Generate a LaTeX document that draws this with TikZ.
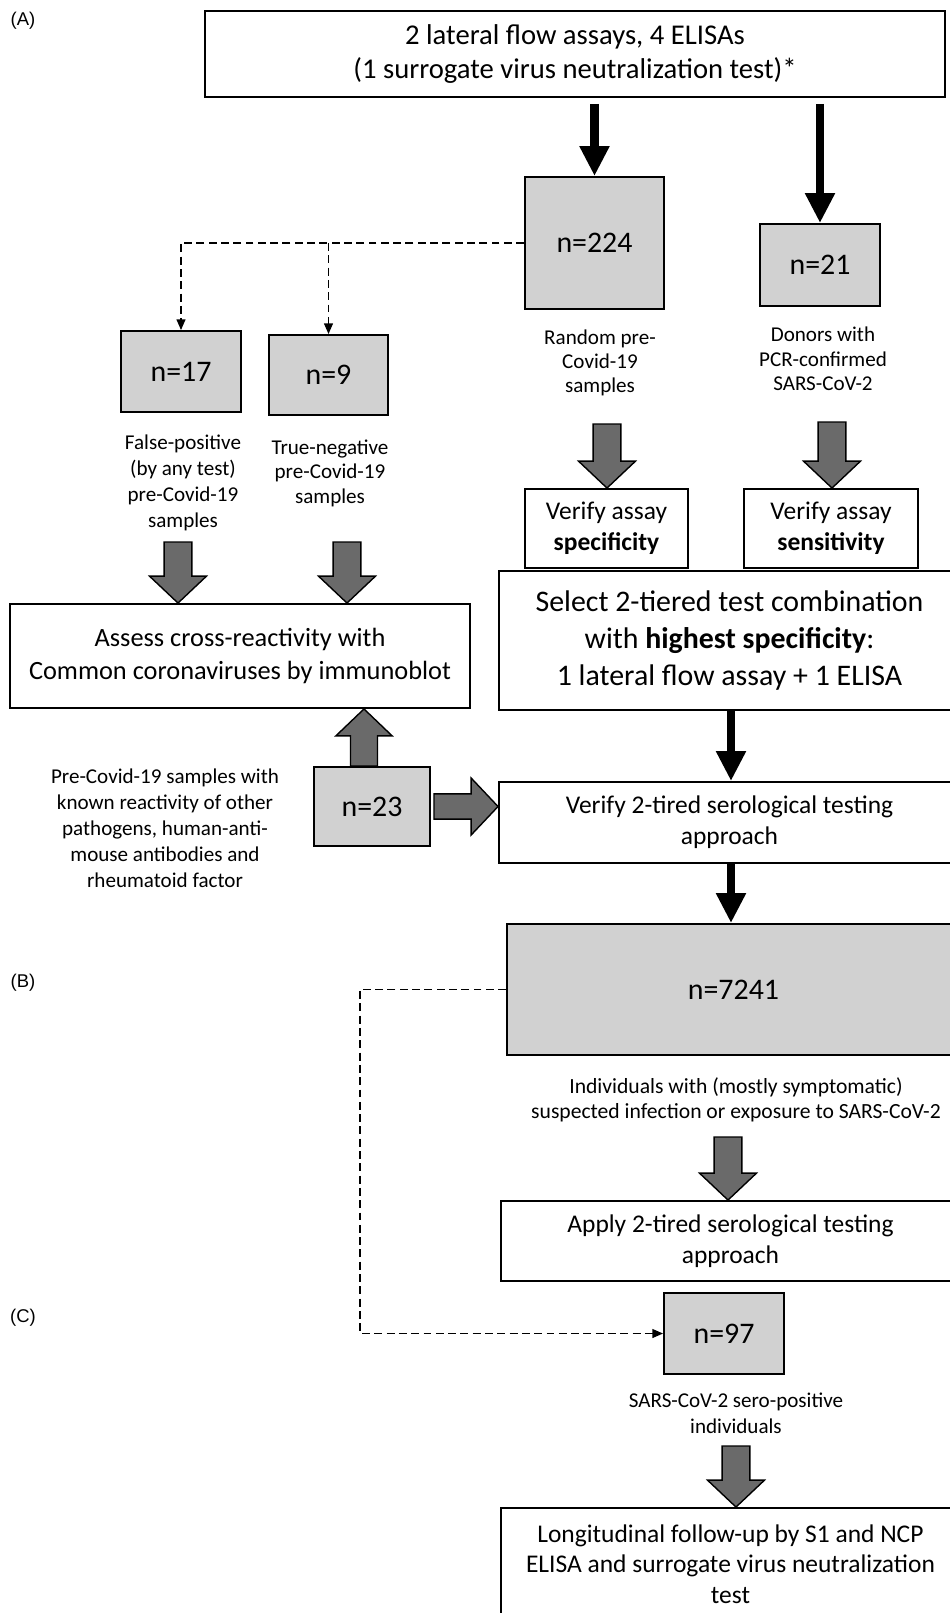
\documentclass[tikz,border=0pt]{standalone}
\usepackage{fontspec}
\setmainfont{Carlito}
\newfontfamily\labfont{Liberation Sans}
\usetikzlibrary{arrows.meta,calc}
\definecolor{cntgray}{HTML}{D1D1D1}
\definecolor{arrgray}{HTML}{6A6A6A}
\tikzset{
 box/.style={draw=black, line width=1.1pt, fill=white, align=center, inner sep=0pt},
 cnt/.style={draw=black, line width=1.1pt, fill=cntgray, inner sep=0pt, font=\fontsize{17}{20}\selectfont},
 lbl/.style={align=center, inner sep=0pt, font=\fontsize{12}{14}\selectfont},
 panel/.style={inner sep=0pt, font=\labfont\fontsize{10.5}{12}\selectfont},
 bigarr/.style={line width=5.1pt, -{Triangle[width=16pt,length=17pt]}},
 dashconn/.style={line width=0.8pt, dash pattern=on 4.5pt off 2.5pt},
 dashtip/.style={-{Triangle[width=5pt,length=6pt]}},
 garr/.style={draw=black, line width=0.8pt, fill=arrgray, line join=miter},
}
\newcommand\gdown[2]{%
 \draw[garr] let \p1=(#1), \p2=(#2) in (\x2-7.9pt,\y1) -- (\x2+7.9pt,\y1) -- (\x2+7.9pt,\y2+15.3pt) -- (\x2+16.2pt,\y2+15.3pt) -- (\x2,\y2) -- (\x2-16.2pt,\y2+15.3pt) -- (\x2-7.9pt,\y2+15.3pt) -- cycle;}
\newcommand\gup[2]{%
 \draw[garr] let \p1=(#1), \p2=(#2) in (\x2-7.7pt,\y1) -- (\x2+7.7pt,\y1) -- (\x2+7.7pt,\y2-15.3pt) -- (\x2+16pt,\y2-15.3pt) -- (\x2,\y2) -- (\x2-16pt,\y2-15.3pt) -- (\x2-7.7pt,\y2-15.3pt) -- cycle;}
\newcommand\gright[2]{%
 \draw[garr] let \p1=(#1), \p2=(#2) in (\x1,\y2+7.2pt) -- (\x2-15.3pt,\y2+7.2pt) -- (\x2-15.3pt,\y2+16.2pt) -- (\x2,\y2) -- (\x2-15.3pt,\y2-16.2pt) -- (\x2-15.3pt,\y2-7.2pt) -- (\x1,\y2-7.2pt) -- cycle;}
\begin{document}
\begin{tikzpicture}
\useasboundingbox (0,0) rectangle (19,-32.26);
% panel labels
\node[panel] (pA) at (0.46,-0.42) {(A)};
\node[panel] (pB) at (0.46,-19.66) {(B)};
\node[panel] (pC) at (0.46,-26.36) {(C)};
% boxes
\node[box, minimum width=14.8cm, minimum height=1.72cm, font=\fontsize{16.3}{18.9}\selectfont] (top) at (11.5,-1.08) {2 lateral flow assays, 4 ELISAs\\(1 surrogate virus neutralization test)*};
\node[cnt, minimum width=2.78cm, minimum height=2.64cm] (n224) at (11.89,-4.86) {n=224};
\node[cnt, minimum width=2.4cm, minimum height=1.64cm] (n21) at (16.4,-5.3) {n=21};
\node[cnt, minimum width=2.4cm, minimum height=1.62cm] (n17) at (3.62,-7.43) {n=17};
\node[cnt, minimum width=2.38cm, minimum height=1.6cm] (n9) at (6.57,-7.5) {n=9};
\node[lbl, font=\fontsize{12}{13.5}\selectfont] (lrandom) at (12.0,-7.26) {Random pre-\\Covid-19\\samples};
\node[lbl] (ldonors) at (16.46,-7.18) {Donors with\\PCR-confirmed\\SARS-CoV-2};
\node[lbl, font=\fontsize{12}{14.8}\selectfont] (lfp) at (3.66,-9.66) {False-positive\\(by any test)\\pre-Covid-19\\samples};
\node[lbl] (ltn) at (6.6,-9.46) {True-negative\\pre-Covid-19\\samples};
\node[box, minimum width=3.26cm, minimum height=1.58cm, font=\fontsize{14.5}{17.6}\selectfont] (spec) at (12.13,-10.57) {Verify assay\\\textbf{specificity}};
\node[box, minimum width=3.48cm, minimum height=1.58cm, font=\fontsize{14.5}{17.6}\selectfont] (sens) at (16.62,-10.57) {Verify assay\\\textbf{sensitivity}};
\node[box, minimum width=9.22cm, minimum height=2.78cm, font=\fontsize{17}{21}\selectfont] (select) at (14.59,-12.81) {Select 2-tiered test combination\\with \textbf{highest specificity}:\\1 lateral flow assay + 1 ELISA};
\node[box, minimum width=9.2cm, minimum height=2.08cm, font=\fontsize{15}{19.3}\selectfont] (assess) at (4.8,-13.12) {Assess cross-reactivity with\\Common coronaviruses by immunoblot};
\node[cnt, minimum width=2.32cm, minimum height=1.58cm] (n23) at (7.44,-16.13) {n=23};
\node[lbl, font=\fontsize{12}{14.8}\selectfont] (lpre) at (3.3,-16.56) {Pre-Covid-19 samples with\\known reactivity of other\\pathogens, human-anti-\\mouse antibodies and\\rheumatoid factor};
\node[box, minimum width=9.22cm, minimum height=1.62cm, font=\fontsize{14.5}{17.6}\selectfont] (verify) at (14.59,-16.45) {Verify 2-tired serological testing\\approach};
\node[cnt, minimum width=9.06cm, minimum height=2.62cm] (n7241) at (14.67,-19.79) {n=7241};
\node[lbl, font=\fontsize{12.3}{13.9}\selectfont] (lind) at (14.72,-22.0) {Individuals with (mostly symptomatic)\\suspected infection or exposure to SARS-CoV-2};
\node[box, minimum width=9.18cm, minimum height=1.6cm, font=\fontsize{14.5}{17.6}\selectfont] (apply) at (14.61,-24.82) {Apply 2-tired serological testing\\approach};
\node[cnt, minimum width=2.4cm, minimum height=1.62cm] (n97) at (14.48,-26.67) {n=97};
\node[lbl, font=\fontsize{12}{14.8}\selectfont] (lsero) at (14.72,-28.26) {SARS-CoV-2 sero-positive\\individuals};
\node[box, minimum width=9.18cm, minimum height=2.24cm, font=\fontsize{14.5}{17.3}\selectfont] (long) at (14.61,-31.28) {Longitudinal follow-up by S1 and NCP\\ELISA and surrogate virus neutralization\\test};
% black arrows
\draw[bigarr] ($(top.south -| n224.north)+(0,-0.12)$) -- (n224.north);
\draw[bigarr] ($(top.south -| n21.north)+(0,-0.12)$) -- (n21.north);
\coordinate (vx) at (14.62,0);
\draw[bigarr] (select.south -| vx) -- (verify.north -| vx);
\draw[bigarr] (verify.south -| vx) -- (n7241.north -| vx);
% dashed connectors
\draw[dashconn, dashtip] (n224.west) -- (n17.north |- n224.west) -- (n17.north);
\draw[dashconn, dashtip] (n9.north |- n224.west) -- (n9.north);
\coordinate (dl) at (7.2,0);
\draw[dashconn, dashtip] (n7241.west) -- (dl |- n7241.west) -- (dl |- n97.west) -- (n97.west);
% gray block arrows
\coordinate (g1) at (12.14,-8.48);
\gdown{g1}{g1 |- spec.north}
\coordinate (g2) at (16.64,-8.44);
\gdown{g2}{g2 |- sens.north}
\coordinate (g3) at (3.56,-10.84);
\gdown{g3}{g3 |- assess.north}
\coordinate (g4) at (6.94,-10.84);
\gdown{g4}{g4 |- assess.north}
\coordinate (g5) at (7.28,0);
\gup{g5 |- n23.north}{g5 |- assess.south}
\gright{$(n23.east)+(0.06,0)$}{verify.west |- n23.east}
\coordinate (g6) at (14.56,-22.74);
\gdown{g6}{g6 |- apply.north}
\coordinate (g7) at (14.72,-28.92);
\gdown{g7}{g7 |- long.north}
\end{tikzpicture}
\end{document}
